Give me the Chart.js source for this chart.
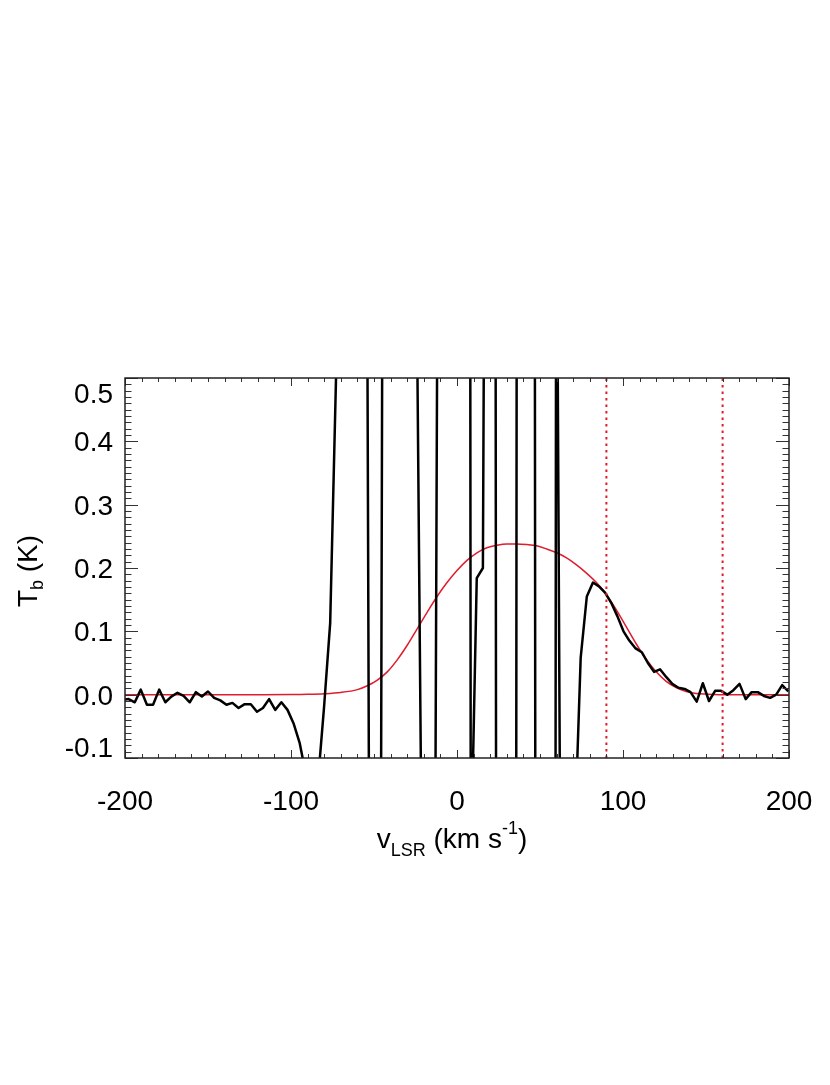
<!DOCTYPE html>
<html lang="en">
<head>
    <meta charset="UTF-8">
    <title>HI spectrum with fit</title>
    <script src="https://cdn.jsdelivr.net/npm/chart.js"></script>
    <style>
        body { margin: 0; padding: 0; background: #fff; }
        canvas { display: block; }
    </style>
</head>
<body>
    <canvas id="spectrum" width="830" height="1085"></canvas>
    <script>
        // observed spectrum: channel velocities (km/s) and brightness temperature (K)
        const velocity = [
            -201.5, -197.8, -194.1, -190.5, -186.8, -183.1, -179.4, -175.7, -172.1, -168.4,
            -164.7, -161.0, -157.3, -153.7, -150.0, -146.3, -142.6, -138.9, -135.3, -131.6,
            -127.9, -124.2, -120.5, -116.9, -113.2, -109.5, -105.8, -102.1, -98.5, -94.8,
            -91.1, -87.4, -83.7, -80.1, -76.4, -72.7, -69.0, -65.3, -61.7, -58.0,
            -54.3, -50.6, -46.9, -43.3, -39.6, -35.9, -32.2, -28.5, -24.9, -21.2,
            -17.5, -13.8, -10.1, -6.5, -2.8, 0.9, 4.6, 8.3, 11.9, 15.6,
            19.3, 23.0, 26.7, 30.3, 34.0, 37.7, 41.4, 45.1, 48.7, 52.4,
            56.1, 59.8, 63.5, 67.1, 70.8, 74.5, 78.2, 81.9, 85.5, 89.2,
            92.9, 96.6, 100.3, 103.9, 107.6, 111.3, 115.0, 118.7, 122.3, 126.0,
            129.7, 133.4, 137.1, 140.7, 144.4, 148.1, 151.8, 155.5, 159.1, 162.8,
            166.5, 170.2, 173.9, 177.5, 181.2, 184.9, 188.6, 192.3, 195.9, 199.6
        ];
        const tbObserved = [
            -0.008, -0.007, -0.012, 0.008, -0.016, -0.016, 0.008, -0.012, -0.003, 0.003,
            -0.002, -0.012, 0.004, -0.003, 0.005, -0.005, -0.009, -0.016, -0.013, -0.021,
            -0.015, -0.015, -0.027, -0.021, -0.007, -0.024, -0.012, -0.024, -0.045, -0.076,
            -0.125, -0.16, -0.135, -0.02, 0.113, 0.52, 1.5, 2.5, 3.0, 2.0,
            0.8, -2.0, -1.3, 2.3, 4.0, 5.0, 4.0, 2.0, 0.83, -0.28,
            -1.2, -0.7, 1.8, 4.0, 7.0, 9.0, 10.0, -0.28, 0.184, 0.2,
            2.4, 1.3, -8.7, -10.0, -4.7, 5.3, 8.0, 5.6, -4.4, -6.0,
            -8.3, 0.95, -0.9, -0.6, -0.234, 0.058, 0.155, 0.177, 0.171, 0.161,
            0.145, 0.124, 0.100, 0.085, 0.073, 0.067, 0.050, 0.036, 0.040, 0.028,
            0.017, 0.011, 0.009, 0.004, -0.011, 0.018, -0.010, 0.006, 0.006, 0.000,
            0.007, 0.017, -0.007, 0.004, 0.004, -0.002, -0.005, 0.000, 0.015, 0.005
        ];

        // fitted profile (red)
        const fitVelocity = [-200, -150, -120, -100, -90, -80, -70, -60, -54, -48, -42, -36, -30, -24, -18, -12, -6, 0,
            6, 12, 18, 24, 30, 36, 42, 48, 54, 60, 66, 72, 78, 84, 90, 96, 102, 108, 114, 120, 126, 132, 138, 144, 150, 160, 200];
        const fitTb = [0, 0, 0, 0.0002, 0.0006, 0.0015, 0.0035, 0.008, 0.014, 0.023, 0.036, 0.055, 0.078, 0.104, 0.130, 0.155, 0.177, 0.196,
            0.212, 0.224, 0.232, 0.236, 0.238, 0.238, 0.237, 0.235, 0.230, 0.224, 0.216, 0.205, 0.192, 0.177, 0.158, 0.134, 0.107, 0.080, 0.056, 0.036, 0.021, 0.011, 0.005, 0.002, 0.001, 0, 0];

        // integration window markers
        const markerVelocity = [90, 160];

        // axes
        const xRange = [-200, 200];
        const yRange = [-0.1, 0.5];
        const xTickValues = [-200, -100, 0, 100, 200];
        const xTickLabels = ['-200', '-100', '0', '100', '200'];
        const yTickValues = [-0.1, 0.0, 0.1, 0.2, 0.3, 0.4, 0.5];
        const yTickLabels = ['-0.1', '0.0', '0.1', '0.2', '0.3', '0.4', '0.5'];

        const FONT = '"Liberation Sans", Arial, Helvetica, sans-serif';
        const RED = 'rgb(222, 28, 44)';

        function drawRich(ctx, parts, cx, baseY, rotate) {
            ctx.save();
            ctx.translate(cx, baseY);
            if (rotate) ctx.rotate(-Math.PI / 2);
            ctx.textAlign = 'left';
            ctx.textBaseline = 'alphabetic';
            let w = 0;
            parts.forEach(p => { ctx.font = p.size + 'px ' + FONT; w += ctx.measureText(p.text).width; });
            let x = -w / 2;
            parts.forEach(p => {
                ctx.font = p.size + 'px ' + FONT;
                ctx.fillText(p.text, x, p.dy);
                x += ctx.measureText(p.text).width;
            });
            ctx.restore();
        }

        const frame = {
            id: 'frame',
            afterDraw(chart) {
                const ctx = chart.ctx;
                const a = chart.chartArea;
                const xs = chart.scales.x, ys = chart.scales.y;
                ctx.save();
                ctx.strokeStyle = '#333';
                ctx.lineWidth = 1;

                // minor + major ticks, drawn inward on all four sides
                ctx.beginPath();
                for (let v = xRange[0]; v <= xRange[1]; v += 10) {
                    const px = Math.round(xs.getPixelForValue(v)) + 0.5;
                    const len = (v % 100 === 0) ? 8 : 4;
                    ctx.moveTo(px, a.bottom); ctx.lineTo(px, a.bottom - len);
                    ctx.moveTo(px, a.top); ctx.lineTo(px, a.top + len);
                }
                for (let i = -10; i <= 50; i++) {
                    const v = i / 100;
                    const py = Math.round(ys.getPixelForValue(v)) + 0.5;
                    const len = (i % 10 === 0) ? 13 : 6.5;
                    ctx.moveTo(a.left, py); ctx.lineTo(a.left + len, py);
                    ctx.moveTo(a.right, py); ctx.lineTo(a.right - len, py);
                }
                ctx.stroke();

                // box
                ctx.lineWidth = 1.5;
                ctx.strokeStyle = '#222';
                ctx.strokeRect(a.left, a.top, a.right - a.left, a.bottom - a.top);

                // tick labels
                ctx.fillStyle = '#000';
                ctx.font = '28px ' + FONT;
                ctx.textBaseline = 'alphabetic';
                ctx.textAlign = 'center';
                xTickValues.forEach((v, i) => {
                    ctx.fillText(xTickLabels[i], xs.getPixelForValue(v), 810);
                });
                ctx.textAlign = 'right';
                yTickValues.forEach((v, i) => {
                    let cy = ys.getPixelForValue(v);
                    cy = Math.min(Math.max(cy, a.top + 14.5), a.bottom - 11.5);
                    ctx.fillText(yTickLabels[i], a.left - 12, cy + 10);
                });

                // axis titles
                drawRich(ctx, [
                    { text: 'v', size: 28, dy: 0 },
                    { text: 'LSR', size: 18, dy: 8 },
                    { text: ' (km s', size: 28, dy: 0 },
                    { text: '-1', size: 18, dy: -14 },
                    { text: ')', size: 28, dy: 0 }
                ], 452, 848, false);
                drawRich(ctx, [
                    { text: 'T', size: 28, dy: 0 },
                    { text: 'b', size: 18, dy: 6 },
                    { text: ' (K)', size: 28, dy: 0 }
                ], 37, 571, true);
                ctx.restore();
            }
        };

        const observedPoints = velocity.map((v, i) => ({ x: v, y: tbObserved[i] }));
        const fitPoints = fitVelocity.map((v, i) => ({ x: v, y: fitTb[i] }));
        const markerSets = markerVelocity.map(v => ({
            data: [{ x: v, y: yRange[0] }, { x: v, y: yRange[1] }],
            borderColor: RED,
            borderWidth: 2,
            borderDash: [2.5, 4],
            pointRadius: 0,
            clip: 0
        }));

        new Chart(document.getElementById('spectrum').getContext('2d'), {
            type: 'line',
            data: {
                datasets: [
                    ...markerSets,
                    {
                        data: observedPoints,
                        borderColor: '#000',
                        borderWidth: 2.5,
                        pointRadius: 0,
                        tension: 0,
                        borderJoinStyle: 'round',
                        clip: 0
                    },
                    {
                        data: fitPoints,
                        borderColor: RED,
                        borderWidth: 1.5,
                        pointRadius: 0,
                        cubicInterpolationMode: 'monotone',
                        clip: 0
                    }
                ]
            },
            options: {
                responsive: false,
                animation: false,
                parsing: false,
                layout: { padding: { left: 125, top: 378, right: 41, bottom: 327 } },
                plugins: { legend: { display: false }, tooltip: { enabled: false } },
                scales: {
                    x: { type: 'linear', min: xRange[0], max: xRange[1], display: false },
                    y: { type: 'linear', min: yRange[0], max: yRange[1], display: false }
                }
            },
            plugins: [frame]
        });
    </script>
</body>
</html>
